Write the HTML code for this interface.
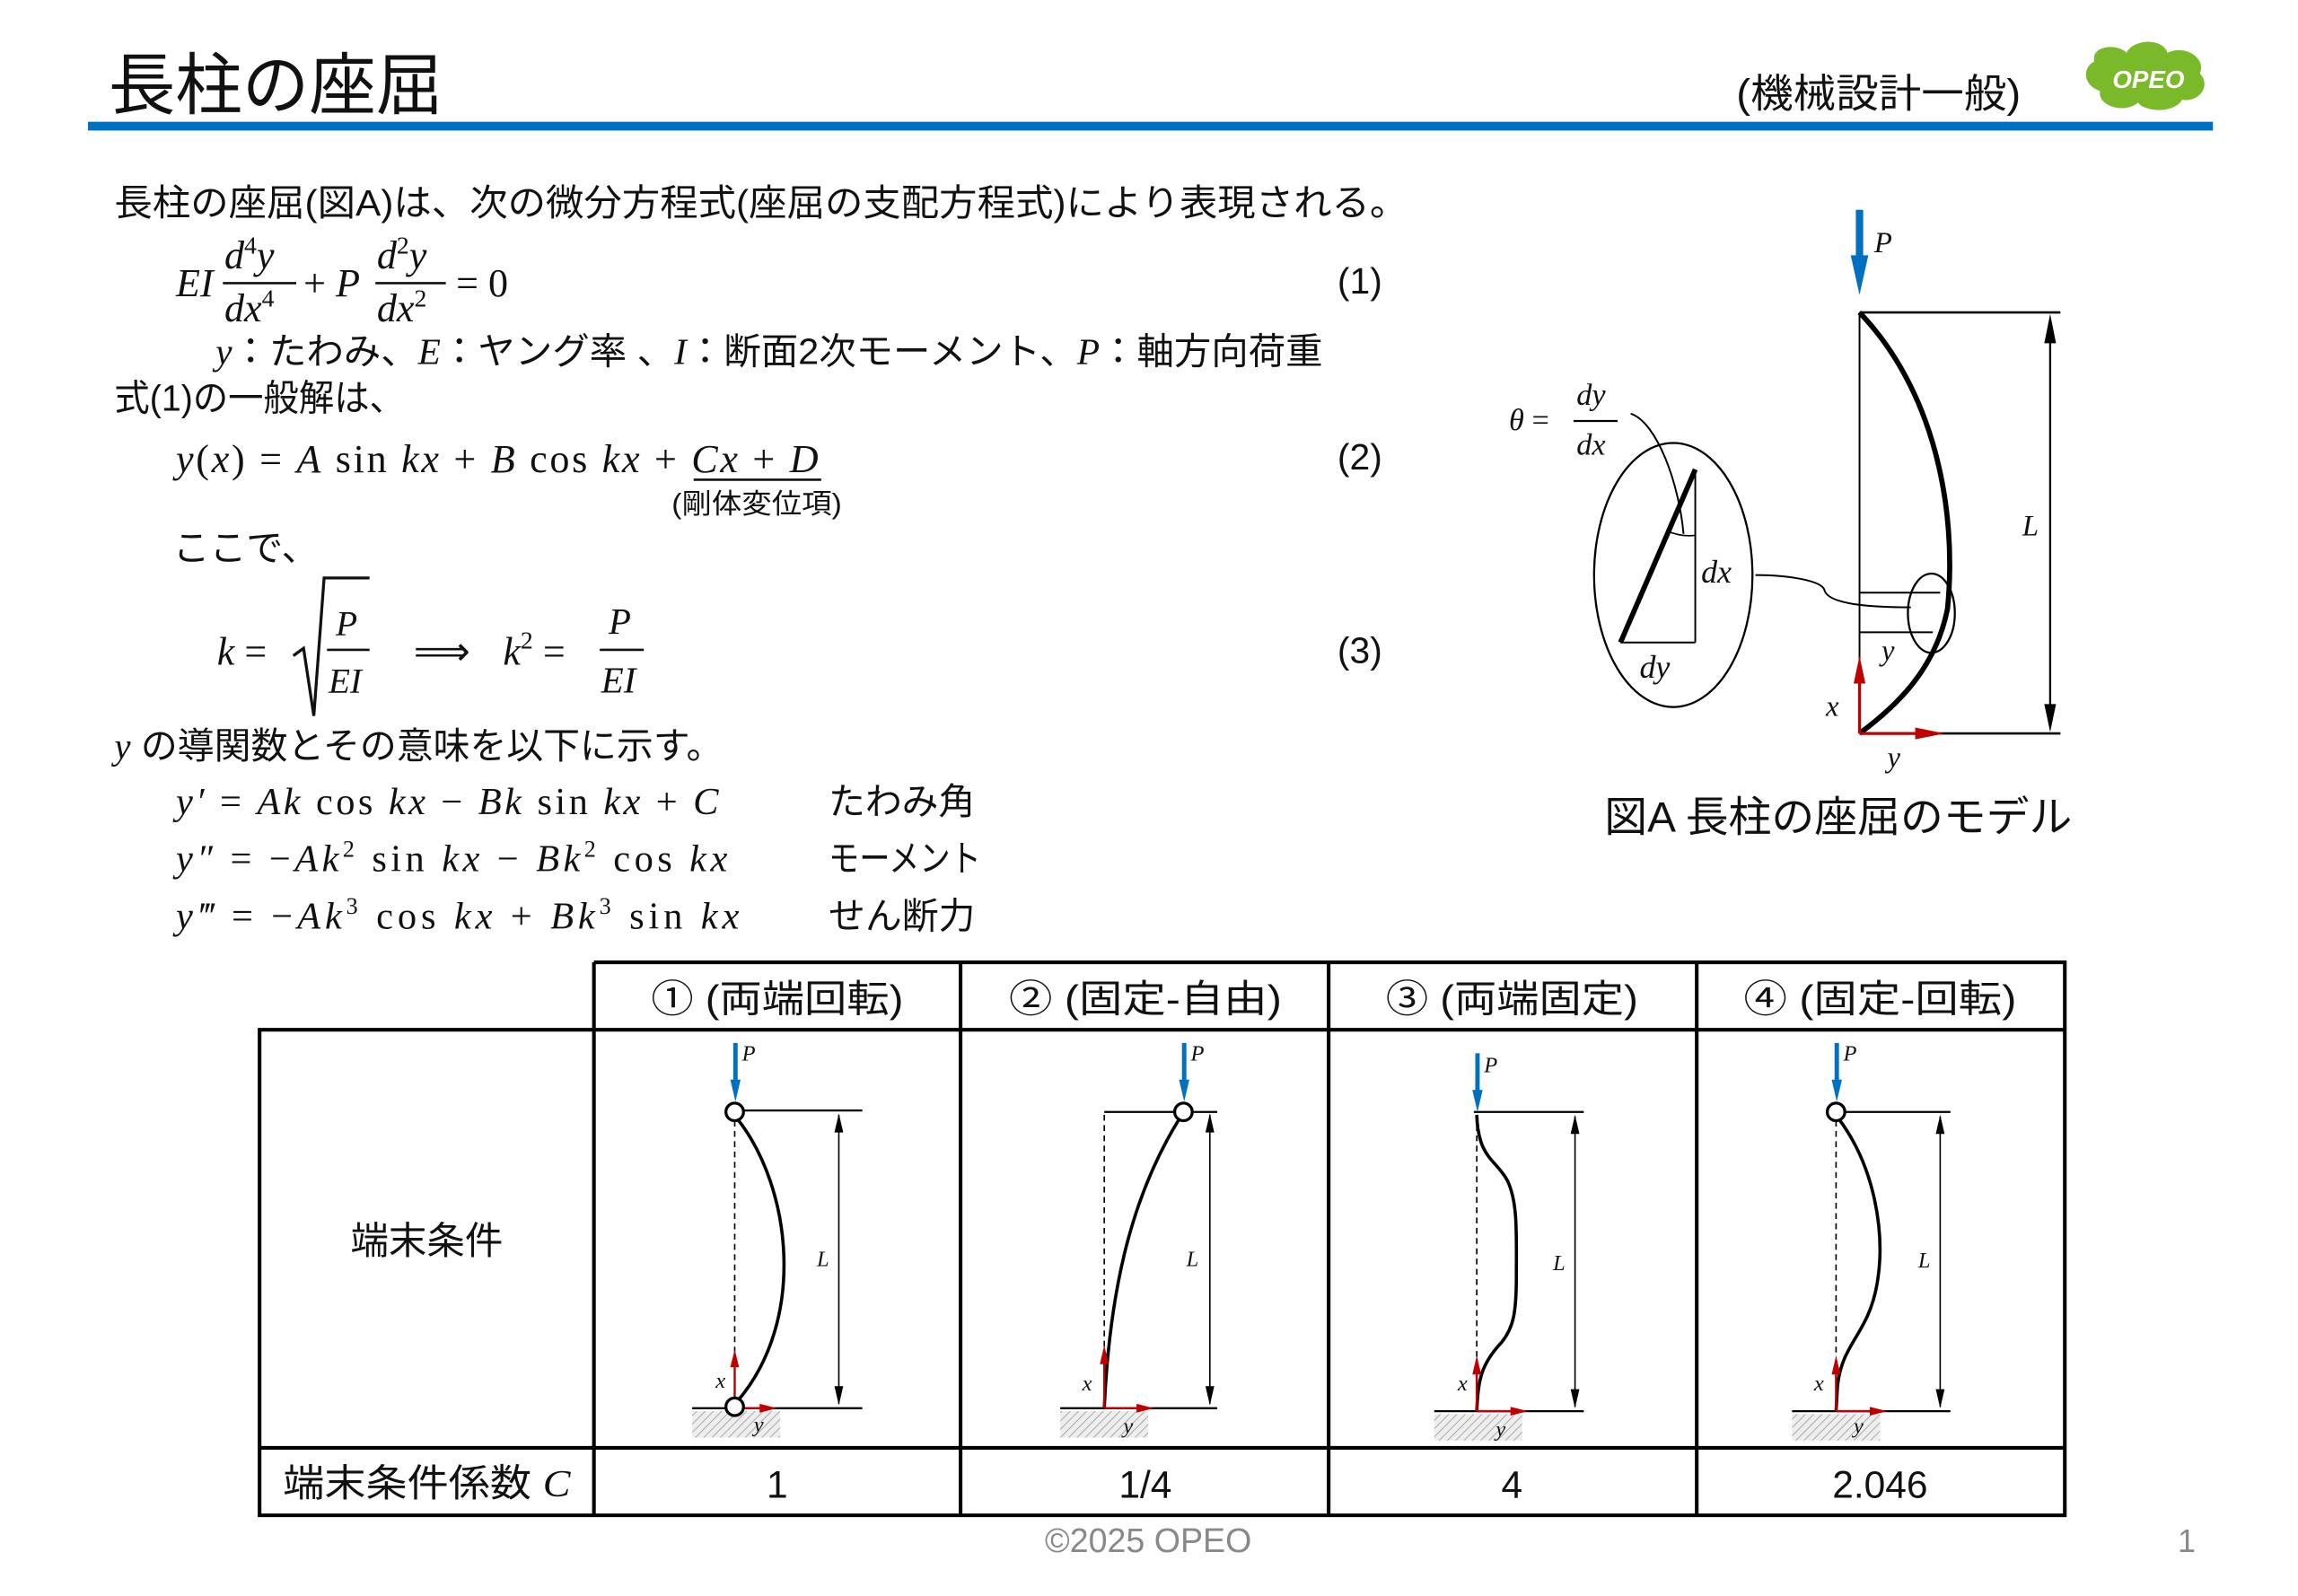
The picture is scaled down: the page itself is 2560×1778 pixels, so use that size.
<!DOCTYPE html>
<html><head><meta charset="utf-8"><style>
html,body{margin:0;padding:0;background:#fff}
svg{display:block}
.j{font-family:"Liberation Sans","Noto Sans CJK JP",sans-serif;fill:#111}
.m{font-family:"Liberation Serif","Noto Serif CJK SC",serif;font-style:italic;fill:#111}
.r{font-family:"Liberation Serif",serif;font-style:normal;fill:#111}
</style></head><body>
<svg width="2560" height="1778" viewBox="0 0 1567 1088" preserveAspectRatio="none" xmlns="http://www.w3.org/2000/svg">
<defs>
<pattern id="h" width="4" height="4" patternUnits="userSpaceOnUse" patternTransform="rotate(45)"><rect width="4" height="4" fill="#eee"/><line x1="0" y1="0" x2="0" y2="4" stroke="#999" stroke-width="1"/></pattern>
</defs>
<!-- header -->
<text x="74" y="74" class="j" font-size="46" textLength="228" lengthAdjust="spacingAndGlyphs">長柱の座屈</text>
<text x="1184" y="73" class="j" font-size="27" textLength="194" lengthAdjust="spacingAndGlyphs">(機械設計一般)</text>
<rect x="60" y="83" width="1449" height="6" fill="#0070c0"/>
<g>
<path d="M1428,42 C1426,30 1445,30 1450,36 C1455,26 1475,26 1478,36 C1490,30 1505,40 1500,50 C1508,58 1500,70 1488,68 C1482,78 1462,76 1458,70 C1448,78 1430,72 1432,62 C1420,58 1420,46 1428,42 Z" fill="#7ab929"/>
<text x="1465" y="60" font-family="Liberation Sans,sans-serif" font-style="italic" font-weight="bold" font-size="17" fill="#fff" text-anchor="middle">OPEO</text>
</g>
<!-- body text -->
<text x="78" y="147" class="j" font-size="25" textLength="882" lengthAdjust="spacingAndGlyphs">長柱の座屈(図A)は、次の微分方程式(座屈の支配方程式)により表現される。</text>
<g font-size="27">
<text x="120" y="202" class="m">EI</text>
<text x="153" y="183" class="m">d<tspan font-size="17" dy="-10" class="r">4</tspan><tspan dy="10">y</tspan></text>
<line x1="152" y1="193" x2="202" y2="193" stroke="#111" stroke-width="1.6"/>
<text x="153" y="219" class="m">dx<tspan font-size="17" dy="-10" class="r">4</tspan></text>
<text x="207" y="202" class="r">+ <tspan class="m">P</tspan></text>
<text x="257" y="183" class="m">d<tspan font-size="17" dy="-10" class="r">2</tspan><tspan dy="10">y</tspan></text>
<line x1="256" y1="193" x2="304" y2="193" stroke="#111" stroke-width="1.6"/>
<text x="257" y="219" class="m">dx<tspan font-size="17" dy="-10" class="r">2</tspan></text>
<text x="311" y="202" class="r">= 0</text>
</g>
<text x="912" y="200" class="j" font-size="25">(1)</text>
<text x="147" y="248" class="j" font-size="25" textLength="755" lengthAdjust="spacingAndGlyphs"><tspan class="m">y</tspan>：たわみ、<tspan class="m">E</tspan>：ヤング率 、<tspan class="m">I</tspan>：断面2次モーメント、<tspan class="m">P</tspan>：軸方向荷重</text>
<text x="78" y="280" class="j" font-size="25" textLength="198" lengthAdjust="spacingAndGlyphs">式(1)の一般解は、</text>
<text x="120" y="322" class="m" font-size="27" textLength="438" lengthAdjust="spacing">y<tspan class="r">(</tspan>x<tspan class="r">) = </tspan>A<tspan class="r"> sin </tspan>kx<tspan class="r"> + </tspan>B<tspan class="r"> cos </tspan>kx<tspan class="r"> + </tspan>Cx<tspan class="r"> + </tspan>D</text>
<line x1="473" y1="327" x2="560" y2="327" stroke="#111" stroke-width="1.6"/>
<text x="458" y="350" class="j" font-size="19" textLength="116" lengthAdjust="spacingAndGlyphs">(剛体変位項)</text>
<text x="912" y="320" class="j" font-size="25">(2)</text>
<text x="118" y="382" class="j" font-size="25">ここで、</text>
<text x="148" y="453" class="m" font-size="27">k <tspan class="r">=</tspan></text>
<path d="M200,447 L207,442 L214,488 L221,394 L252,394" fill="none" stroke="#111" stroke-width="2"/>
<text x="229" y="433" class="m" font-size="24">P</text>
<line x1="223" y1="443" x2="252" y2="443" stroke="#111" stroke-width="1.6"/>
<text x="224" y="472" class="m" font-size="24">EI</text>
<text x="282" y="453" class="r" font-size="27">⟹</text>
<text x="343" y="453" class="m" font-size="27">k<tspan font-size="17" dy="-11" class="r">2</tspan><tspan dy="11" class="r"> =</tspan></text>
<text x="415" y="432" class="m" font-size="25">P</text>
<line x1="409" y1="443" x2="439" y2="443" stroke="#111" stroke-width="1.6"/>
<text x="410" y="472" class="m" font-size="25">EI</text>
<text x="912" y="452" class="j" font-size="25">(3)</text>
<text x="78" y="517" class="j" font-size="25" textLength="415" lengthAdjust="spacingAndGlyphs"><tspan class="m">y</tspan> の導関数とその意味を以下に示す。</text>
<g font-size="26">
<text x="120" y="555" class="m" textLength="370" lengthAdjust="spacing">y′ <tspan class="r">= </tspan>Ak<tspan class="r"> cos </tspan>kx<tspan class="r"> − </tspan>Bk<tspan class="r"> sin </tspan>kx<tspan class="r"> + </tspan>C</text>
<text x="120" y="594" class="m" textLength="376" lengthAdjust="spacing">y″ <tspan class="r">= −</tspan>Ak<tspan font-size="16" dy="-10" class="r">2</tspan><tspan dy="10" class="r"> sin </tspan>kx<tspan class="r"> − </tspan>Bk<tspan font-size="16" dy="-10" class="r">2</tspan><tspan dy="10" class="r"> cos </tspan>kx</text>
<text x="120" y="633" class="m" textLength="384" lengthAdjust="spacing">y‴ <tspan class="r">= −</tspan>Ak<tspan font-size="16" dy="-10" class="r">3</tspan><tspan dy="10" class="r"> cos </tspan>kx<tspan class="r"> + </tspan>Bk<tspan font-size="16" dy="-10" class="r">3</tspan><tspan dy="10" class="r"> sin </tspan>kx</text>
</g>
<text x="565" y="555" class="j" font-size="25">たわみ角</text>
<text x="565" y="594" class="j" font-size="25" textLength="104" lengthAdjust="spacingAndGlyphs">モーメント</text>
<text x="565" y="633" class="j" font-size="25">せん断力</text>

<!-- Figure A -->
<rect x="1265.5" y="143" width="5" height="32" fill="#0070c0"/>
<path d="M1262,174 L1274,174 L1268,201 Z" fill="#0070c0"/>
<text x="1278" y="172" class="m" font-size="20">P</text>
<line x1="1268" y1="213" x2="1405" y2="213" stroke="#000" stroke-width="1.6"/>
<line x1="1268" y1="500" x2="1405" y2="500" stroke="#000" stroke-width="1.6"/>
<line x1="1268" y1="213" x2="1268" y2="500" stroke="#000" stroke-width="1.2"/>
<path d="M1268,213 C1318,265 1335,345 1328,415 C1320,455 1295,480 1268,500" fill="none" stroke="#000" stroke-width="3.5"/>
<line x1="1398" y1="222" x2="1398" y2="491" stroke="#000" stroke-width="1.4"/>
<path d="M1394,234 L1398,214 L1402,234 Z M1394,480 L1398,499 L1402,480 Z" fill="#000"/>
<text x="1379" y="365" class="m" font-size="20">L</text>
<line x1="1268" y1="404" x2="1323" y2="404" stroke="#000" stroke-width="1.2"/>
<line x1="1268" y1="431" x2="1318" y2="431" stroke="#000" stroke-width="1.2"/>
<ellipse cx="1317" cy="418" rx="16" ry="27" fill="none" stroke="#000" stroke-width="1.4"/>
<text x="1283" y="450" class="m" font-size="20">y</text>
<line x1="1268" y1="500" x2="1268" y2="462" stroke="#c00000" stroke-width="2"/>
<path d="M1264,466 L1268,447 L1272,466 Z" fill="#c00000"/>
<line x1="1268" y1="500" x2="1310" y2="500" stroke="#c00000" stroke-width="2"/>
<path d="M1306,496 L1326,500 L1306,504 Z" fill="#c00000"/>
<text x="1245" y="488" class="m" font-size="20">x</text>
<text x="1287" y="523" class="m" font-size="20">y</text>
<ellipse cx="1141" cy="392" rx="54" ry="90" fill="none" stroke="#000" stroke-width="1.4"/>
<line x1="1105" y1="438" x2="1156" y2="320" stroke="#000" stroke-width="3.5"/>
<line x1="1156" y1="320" x2="1156" y2="438" stroke="#000" stroke-width="1.2"/>
<line x1="1105" y1="438" x2="1156" y2="438" stroke="#000" stroke-width="1.2"/>
<path d="M1137,362 Q1146,366 1156,365" fill="none" stroke="#000" stroke-width="1"/>
<text x="1160" y="397" class="m" font-size="22">dx</text>
<text x="1118" y="462" class="m" font-size="22">dy</text>
<path d="M1197,392 C1220,392 1242,396 1244,402 C1246,412 1275,414 1303,414" fill="none" stroke="#000" stroke-width="1.2"/>
<text x="1029" y="293" class="m" font-size="21">θ <tspan class="r">=</tspan></text>
<text x="1075" y="276" class="m" font-size="21">dy</text>
<line x1="1073" y1="287" x2="1103" y2="287" stroke="#000" stroke-width="1.4"/>
<text x="1075" y="310" class="m" font-size="21">dx</text>
<path d="M1112,282 C1130,288 1145,330 1148,364" fill="none" stroke="#000" stroke-width="1.2"/>
<text x="1094" y="567" class="j" font-size="29" textLength="319" lengthAdjust="spacingAndGlyphs">図A 長柱の座屈のモデル</text>

<!-- Table -->
<g stroke="#000" stroke-width="2.5" fill="none">
<path d="M405,656 H1408 V1033 H177 V702 H1408"/>
<line x1="405" y1="656" x2="405" y2="1033"/>
<line x1="655" y1="656" x2="655" y2="1033"/>
<line x1="906" y1="656" x2="906" y2="1033"/>
<line x1="1157" y1="656" x2="1157" y2="1033"/>
<line x1="177" y1="987" x2="1408" y2="987"/>
</g>
<g class="j" font-size="26" text-anchor="middle">
<text x="530" y="690" textLength="172" lengthAdjust="spacingAndGlyphs">① (両端回転)</text>
<text x="781" y="690" textLength="186" lengthAdjust="spacingAndGlyphs">② (固定-自由)</text>
<text x="1031" y="690" textLength="172" lengthAdjust="spacingAndGlyphs">③ (両端固定)</text>
<text x="1282" y="690" textLength="186" lengthAdjust="spacingAndGlyphs">④ (固定-回転)</text>
<text x="291" y="855">端末条件</text>
<text x="291" y="1020" textLength="196" lengthAdjust="spacingAndGlyphs">端末条件係数 <tspan class="m">C</tspan></text>
<text x="530" y="1021">1</text>
<text x="781" y="1021">1/4</text>
<text x="1031" y="1021">4</text>
<text x="1282" y="1021">2.046</text>
</g>

<!-- case diagrams -->
<g id="c1">
<rect x="472" y="962" width="60" height="18" fill="url(#h)"/>
<line x1="472" y1="960" x2="588" y2="960" stroke="#000" stroke-width="1.4"/>
<line x1="505" y1="757" x2="588" y2="757" stroke="#000" stroke-width="1.4"/>
<line x1="501" y1="764" x2="501" y2="925" stroke="#000" stroke-width="1" stroke-dasharray="4,3"/>
<path d="M503,763 C540,810 550,900 503,955" fill="none" stroke="#000" stroke-width="2.2"/>
<line x1="572" y1="760" x2="572" y2="957" stroke="#000" stroke-width="1"/>
<path d="M569,772 L572,759 L575,772 Z M569,945 L572,958 L575,945 Z" fill="#000"/>
<text x="557" y="863" class="m" font-size="15">L</text>
<line x1="501" y1="958" x2="501" y2="930" stroke="#c00000" stroke-width="1.5"/>
<path d="M498,932 L501,920 L504,932 Z" fill="#c00000"/>
<line x1="501" y1="960" x2="520" y2="960" stroke="#c00000" stroke-width="1.5"/>
<path d="M518,957 L530,960 L518,963 Z" fill="#c00000"/>
<circle cx="501" cy="758" r="6" fill="#fff" stroke="#000" stroke-width="2"/>
<circle cx="501" cy="959" r="6" fill="#fff" stroke="#000" stroke-width="2"/>
<rect x="500" y="711" width="3" height="28" fill="#0070c0"/>
<path d="M498,736 L505,736 L501.5,751 Z" fill="#0070c0"/>
<text x="506" y="723" class="m" font-size="15">P</text>
<text x="488" y="946" class="m" font-size="15">x</text>
<text x="514" y="976" class="m" font-size="15">y</text>
</g>
<g id="c2">
<rect x="723" y="962" width="60" height="18" fill="url(#h)"/>
<line x1="723" y1="960" x2="830" y2="960" stroke="#000" stroke-width="1.4"/>
<line x1="753" y1="758" x2="830" y2="758" stroke="#000" stroke-width="1.4"/>
<line x1="753" y1="760" x2="753" y2="920" stroke="#000" stroke-width="1" stroke-dasharray="4,3"/>
<path d="M804,763 C775,810 757,870 753,960" fill="none" stroke="#000" stroke-width="2.2"/>
<line x1="825" y1="760" x2="825" y2="957" stroke="#000" stroke-width="1"/>
<path d="M822,772 L825,759 L828,772 Z M822,945 L825,958 L828,945 Z" fill="#000"/>
<text x="809" y="863" class="m" font-size="15">L</text>
<line x1="753" y1="960" x2="753" y2="928" stroke="#c00000" stroke-width="1.5"/>
<path d="M750,930 L753,917 L756,930 Z" fill="#c00000"/>
<line x1="753" y1="960" x2="777" y2="960" stroke="#c00000" stroke-width="1.5"/>
<path d="M775,957 L787,960 L775,963 Z" fill="#c00000"/>
<circle cx="807" cy="758" r="6" fill="#fff" stroke="#000" stroke-width="2"/>
<rect x="806" y="711" width="3" height="28" fill="#0070c0"/>
<path d="M804,736 L811,736 L807.5,751 Z" fill="#0070c0"/>
<text x="812" y="723" class="m" font-size="15">P</text>
<text x="738" y="948" class="m" font-size="15">x</text>
<text x="766" y="977" class="m" font-size="15">y</text>
</g>
<g id="c3">
<rect x="978" y="964" width="60" height="18" fill="url(#h)"/>
<line x1="978" y1="962" x2="1080" y2="962" stroke="#000" stroke-width="1.4"/>
<line x1="1005" y1="758" x2="1080" y2="758" stroke="#000" stroke-width="1.4"/>
<line x1="1007" y1="760" x2="1007" y2="925" stroke="#000" stroke-width="1" stroke-dasharray="4,3"/>
<path d="M1007,760 C1008,790 1020,790 1028,805 C1035,820 1034,840 1034,870 C1034,895 1032,905 1024,915 C1010,930 1008,940 1007,962" fill="none" stroke="#000" stroke-width="2.2"/>
<line x1="1074" y1="761" x2="1074" y2="959" stroke="#000" stroke-width="1"/>
<path d="M1071,773 L1074,760 L1077,773 Z M1071,947 L1074,960 L1077,947 Z" fill="#000"/>
<text x="1059" y="866" class="m" font-size="15">L</text>
<line x1="1007" y1="962" x2="1007" y2="935" stroke="#c00000" stroke-width="1.5"/>
<path d="M1004,937 L1007,924 L1010,937 Z" fill="#c00000"/>
<line x1="1007" y1="962" x2="1032" y2="962" stroke="#c00000" stroke-width="1.5"/>
<path d="M1030,959 L1042,962 L1030,965 Z" fill="#c00000"/>
<rect x="1006" y="718" width="3" height="28" fill="#0070c0"/>
<path d="M1004,743 L1011,743 L1007.5,758 Z" fill="#0070c0"/>
<text x="1012" y="731" class="m" font-size="15">P</text>
<text x="994" y="948" class="m" font-size="15">x</text>
<text x="1020" y="979" class="m" font-size="15">y</text>
</g>
<g id="c4">
<rect x="1222" y="964" width="60" height="18" fill="url(#h)"/>
<line x1="1222" y1="962" x2="1330" y2="962" stroke="#000" stroke-width="1.4"/>
<line x1="1256" y1="758" x2="1330" y2="758" stroke="#000" stroke-width="1.4"/>
<line x1="1252" y1="764" x2="1252" y2="925" stroke="#000" stroke-width="1" stroke-dasharray="4,3"/>
<path d="M1254,763 C1278,795 1286,840 1280,875 C1274,910 1256,915 1253,945 L1252,962" fill="none" stroke="#000" stroke-width="2.2"/>
<line x1="1323" y1="761" x2="1323" y2="959" stroke="#000" stroke-width="1"/>
<path d="M1320,773 L1323,760 L1326,773 Z M1320,947 L1323,960 L1326,947 Z" fill="#000"/>
<text x="1308" y="864" class="m" font-size="15">L</text>
<line x1="1252" y1="962" x2="1252" y2="935" stroke="#c00000" stroke-width="1.5"/>
<path d="M1249,937 L1252,924 L1255,937 Z" fill="#c00000"/>
<line x1="1252" y1="962" x2="1277" y2="962" stroke="#c00000" stroke-width="1.5"/>
<path d="M1275,959 L1287,962 L1275,965 Z" fill="#c00000"/>
<circle cx="1252" cy="758" r="6" fill="#fff" stroke="#000" stroke-width="2"/>
<rect x="1251" y="711" width="3" height="28" fill="#0070c0"/>
<path d="M1249,736 L1256,736 L1252.5,751 Z" fill="#0070c0"/>
<text x="1257" y="723" class="m" font-size="15">P</text>
<text x="1237" y="948" class="m" font-size="15">x</text>
<text x="1264" y="977" class="m" font-size="15">y</text>
</g>

<text x="783" y="1058" font-family="Liberation Sans,sans-serif" font-size="23" fill="#888" text-anchor="middle">©2025 OPEO</text>
<text x="1485" y="1058" font-family="Liberation Sans,sans-serif" font-size="22" fill="#888">1</text>
</svg>
</body></html>
